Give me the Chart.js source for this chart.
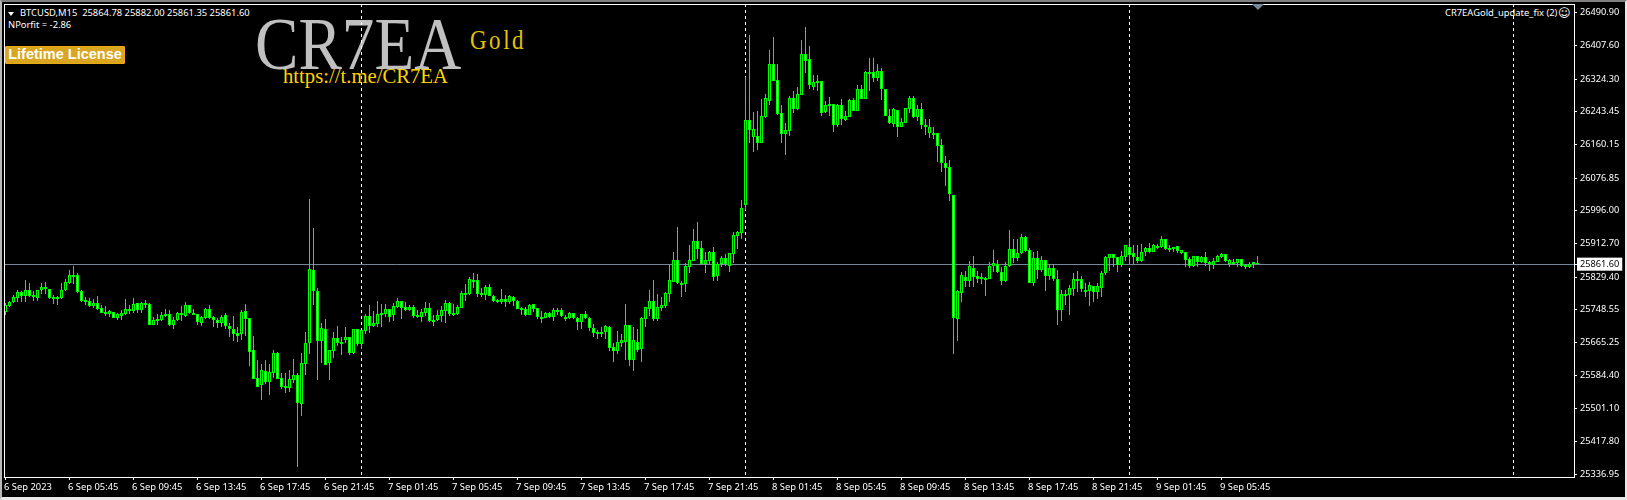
<!DOCTYPE html>
<html>
<head>
<meta charset="utf-8">
<title>BTCUSD,M15</title>
<script src="https://cdn.jsdelivr.net/npm/chart.js@4/dist/chart.umd.js"></script>
<style>
html, body { margin: 0; padding: 0; background: #000; width: 1627px; height: 500px; overflow: hidden; }
canvas { position: absolute; left: 0; top: 0; z-index: 2; }
.txt { position: absolute; z-index: 1; white-space: pre; font-family: "Noto Sans", sans-serif; font-size: 9.4px; line-height: 12px; color: #fff; }
.serif { font-family: "Liberation Serif", serif; transform-origin: left top; }
#frame { position: absolute; left: 0; top: 0; right: 0; bottom: 0; z-index: 3; box-sizing: border-box; pointer-events: none;
  border-top: 2px solid #808080; border-left: 2px solid #b8b8b8; border-right: 2px solid #e8e8e8; border-bottom: 3px solid #e8e8e8; }
#menuArrow { position: absolute; z-index: 1; left: 8px; top: 12px; width: 0; height: 0; border-left: 3.5px solid transparent; border-right: 3.5px solid transparent; border-top: 4px solid #fff; }
#shiftMark { position: absolute; z-index: 3; left: 1252px; top: 4px; width: 0; height: 0; border-left: 6px solid transparent; border-right: 6px solid transparent; border-top: 6px solid #778899; }
#license { position: absolute; z-index: 1; left: 5px; top: 46px; width: 120px; height: 18px; box-sizing: border-box; background: #daa520; border: 1px solid #e8ac10; border-radius: 1px;
  color: #fff; font: bold 14.5px/15px "Liberation Sans", sans-serif; text-align: center; white-space: pre; }
</style>
</head>
<body>
<div id="menuArrow"></div>
<div class="txt" style="left:20px;top:7px">BTCUSD,M15  25864.78 25882.00 25861.35 25861.60</div>
<div class="txt" style="left:8px;top:19px">NPorfit = -2.86</div>
<div id="license">Lifetime License</div>
<div class="txt serif" style="left:255px;top:4px;font-size:74px;line-height:80px;color:#c0c0c0;transform:scaleX(.88)">CR7EA</div>
<div class="txt serif" style="left:470px;top:25px;font-size:27px;line-height:30px;color:#e6c200;letter-spacing:3px;transform:scaleX(.85)">Gold</div>
<div class="txt serif" style="left:283px;top:65px;font-size:20.7px;line-height:22px;color:#ffd400">https://t.me/CR7EA</div>
<div class="txt" style="left:1445px;top:7px">CR7EAGold_update_fix (2)</div>
<div class="txt" style="left:1558px;top:7px;font-family:'DejaVu Sans';font-size:12px">☺</div>
<div id="shiftMark"></div>
<div id="frame"></div>
<canvas id="chart" width="1627" height="500"></canvas>
<script>
// Prix affichés sur l'axe de droite
const priceTicks = [26490.90, 26407.60, 26324.30, 26243.45, 26160.15, 26076.85, 25996.00, 25912.70, 25829.40, 25748.55, 25665.25, 25584.40, 25501.10, 25417.80, 25336.95];
const currentPrice = 25861.60;

// Une étiquette de date toutes les 16 bougies
const timeLabels = ['6 Sep 2023', '6 Sep 05:45', '6 Sep 09:45', '6 Sep 13:45', '6 Sep 17:45', '6 Sep 21:45', '7 Sep 01:45', '7 Sep 05:45', '7 Sep 09:45', '7 Sep 13:45', '7 Sep 17:45', '7 Sep 21:45', '8 Sep 01:45', '8 Sep 05:45', '8 Sep 09:45', '8 Sep 13:45', '8 Sep 17:45', '8 Sep 21:45', '9 Sep 01:45', '9 Sep 05:45'];
const barsPerLabel = 16;

// Bougies de minuit (séparateurs de période)
const dayBreaks = [89, 185, 281, 377];

const opens = [
25742,25757,25767,25777,25792,25782,25797,25779.5,25777,25797,
25804.5,25799.5,25779.5,25774.5,25777,25797,25814.5,25829.5,25834.5,25794.5,
25767,25769.5,25757,25764.5,25752,25737,25737,25742,25727,25732,
25737,25744.5,25744.5,25764.5,25747,25759.5,25762,25709.5,25719.5,25722,
25732,25737,25709.5,25722,25734.5,25732,25759.5,25734.5,25737,25714.5,
25727,25749.5,25729.5,25722,25714.5,25734.5,25707,25699.5,25689.5,25687,
25744.5,25727,25647,25577,25559.5,25594.5,25567,25589.5,25639.5,25577,
25552,25552,25572,25584.5,25512,25612,25664.5,25847,25794.5,25669.5,
25699.5,25614.5,25644.5,25677,25662,25672,25679.5,25639.5,25699.5,25662,
25694.5,25732,25707,25712,25734.5,25737,25749.5,25734.5,25754.5,25769.5,
25754.5,25747,25754.5,25729.5,25729.5,25739.5,25752,25717,25722,25732,
25744.5,25764.5,25734.5,25737,25752,25784.5,25787,25817,25822,25784.5,
25784.5,25804.5,25782,25767,25767,25774.5,25767,25779.5,25769.5,25747,
25749.5,25734.5,25762,25752,25724.5,25727,25739.5,25729.5,25742,25747,
25724.5,25727,25739.5,25727,25717,25737,25727,25702,25687,25687,
25692,25704.5,25654.5,25644.5,25664.5,25667,25709.5,25622,25667,25649.5,
25724.5,25749.5,25769.5,25724.5,25752,25757,25787,25817,25872,25809.5,
25812,25854.5,25869.5,25919.5,25902,25862,25869.5,25892,25832,25862,
25877,25857,25887,25932,25939.5,26009.5,26222,26179.5,26182,26164.5,
26229.5,26269.5,26362,26322,26239.5,26187,26194.5,26277,26249.5,26284.5,
26387,26374.5,26304.5,26314.5,26319.5,26242,26257,26262,26209.5,26259.5,
26222,26229.5,26272,26244.5,26299.5,26274.5,26337,26342,26327,26344.5,
26299.5,26232,26212,26247,26204.5,26214.5,26249.5,26277,26229.5,26249.5,
26204.5,26189.5,26184.5,26189.5,26159.5,26114.5,26104.5,26034.5,25724.5,25789.5,
25829.5,25819.5,25852,25832,25824.5,25822,25824.5,25857,25862,25842,
25819.5,25857,25899.5,25877,25889.5,25929.5,25897,25814.5,25877,25847,
25872,25832,25852,25824.5,25747,25782,25784.5,25799.5,25819.5,25824.5,
25792,25794.5,25807,25792,25802,25839.5,25877,25887,25879.5,25859.5,
25879.5,25904.5,25889.5,25879.5,25869.5,25892,25902,25892,25902,25904.5,
25924.5,25897,25899.5,25907,25889.5,25892,25874.5,25857,25882,25867,
25879.5,25867,25859.5,25867,25879.5,25887,25862,25862,25864.5,25874.5,
25854.5,25854.5,25862,25864.78
];

const highs = [
25764.5,25769.5,25784.5,25797,25794.5,25822,25814.5,25794.5,25797,25814.5,
25817,25799.5,25784.5,25782,25814.5,25824.5,25847,25857,25839.5,25797,
25779.5,25777,25774.5,25782,25759.5,25757,25747,25742,25739.5,25747,
25774.5,25759.5,25777,25764.5,25767,25772,25764.5,25729.5,25737,25742,
25749.5,25747,25729.5,25742,25757,25767,25759.5,25749.5,25737,25732,
25752,25759.5,25732,25727,25734.5,25739.5,25714.5,25732,25704.5,25747,
25762,25727,25682,25622,25612,25622,25612,25647,25642,25589.5,
25589.5,25597,25624.5,25589.5,25639.5,25692,26024.5,25952,25802,25714.5,
25724.5,25647,25692,25707,25679.5,25704.5,25679.5,25699.5,25699.5,25697,
25737,25759.5,25744.5,25769.5,25762,25762,25749.5,25764.5,25777,25769.5,
25767,25759.5,25759.5,25747,25749.5,25767,25764.5,25734.5,25747,25757,
25772,25767,25762,25759.5,25794.5,25812,25829.5,25839.5,25837,25802,
25809.5,25812,25784.5,25774.5,25799.5,25784.5,25784.5,25782,25772,25754.5,
25754.5,25762,25762,25752,25744.5,25742,25742,25752,25752,25752,
25734.5,25742,25739.5,25729.5,25737,25744.5,25729.5,25712,25697,25704.5,
25709.5,25707,25664.5,25694.5,25687,25762,25709.5,25704.5,25699.5,25729.5,
25754.5,25797,25822,25787,25779.5,25792,25859.5,25892,25954.5,25819.5,
25864.5,25909.5,25949.5,25967,25919.5,25892,25894.5,25904.5,25867,25882,
25887,25889.5,25942,25944.5,26022,26329.5,26434.5,26242,26244.5,26274.5,
26287,26397,26429.5,26362,26259.5,26214.5,26282,26294.5,26304.5,26422,
26454.5,26407,26334.5,26334.5,26319.5,26269.5,26279.5,26262,26262,26274.5,
26244.5,26274.5,26277,26309.5,26309.5,26344.5,26377,26377,26362,26352,
26299.5,26249.5,26252,26247,26227,26252,26282,26282,26259.5,26264.5,
26224.5,26224.5,26204.5,26189.5,26174.5,26132,26122,26034.5,25797,25842,
25844.5,25869.5,25882,25844.5,25839.5,25829.5,25867,25897,25872,25854.5,
25867,25947,25924.5,25924.5,25937,25932,25902,25892,25894.5,25882,
25872,25862,25862,25847,25797,25797,25809.5,25839.5,25844.5,25832,
25814.5,25817,25807,25814.5,25844.5,25882,25887,25887,25879.5,25894.5,
25909.5,25927,25909.5,25909.5,25912,25904.5,25914.5,25912,25912,25932,
25924.5,25909.5,25904.5,25907,25897,25892,25879.5,25882,25882,25882,
25892,25869.5,25877,25884.5,25889.5,25887,25874.5,25874.5,25874.5,25874.5,
25862,25867,25867,25882
];

const lows = [
25734.5,25754.5,25764.5,25767,25767,25767,25779.5,25769.5,25769.5,25787,
25787,25774.5,25762,25759.5,25774.5,25794.5,25812,25812,25789.5,25767,
25759.5,25754.5,25752,25747,25739.5,25732,25729.5,25727,25722,25722,
25734.5,25737,25739.5,25739.5,25739.5,25752,25709.5,25709.5,25709.5,25719.5,
25729.5,25707,25699.5,25719.5,25719.5,25729.5,25737,25734.5,25709.5,25707,
25724.5,25724.5,25704.5,25702,25704.5,25699.5,25679.5,25669.5,25667,25672,
25682,25607,25574.5,25554.5,25522,25562,25534.5,25577,25574.5,25549.5,
25539.5,25542,25564.5,25354.5,25482,25584.5,25637,25759.5,25572,25614.5,
25609.5,25572,25627,25657,25634.5,25664.5,25634.5,25637,25657,25649.5,
25687,25689.5,25704.5,25704.5,25704.5,25729.5,25717,25719.5,25752,25724.5,
25744.5,25744.5,25727,25727,25717,25732,25717,25707,25719.5,25717,
25714.5,25732,25732,25734.5,25752,25769.5,25784.5,25802,25779.5,25779.5,
25772,25782,25767,25764.5,25762,25754.5,25762,25757,25749.5,25734.5,
25732,25734.5,25742,25724.5,25714.5,25727,25727,25719.5,25734.5,25729.5,
25719.5,25724.5,25724.5,25697,25699.5,25724.5,25694.5,25679.5,25674.5,25679.5,
25674.5,25644.5,25617,25637,25654.5,25622,25607,25594.5,25642,25617,
25704.5,25732,25719.5,25719.5,25744.5,25752,25767,25817,25812,25779.5,
25792,25839.5,25869.5,25874.5,25859.5,25839.5,25862,25819.5,25819.5,25854.5,
25857,25842,25864.5,25899.5,25924.5,25997,26164.5,26142,26147,26164.5,
26227,26259.5,26319.5,26234.5,26164.5,26134.5,26182,26239.5,26247,26284.5,
26339.5,26299.5,26297,26294.5,26232,26239.5,26232,26192,26204.5,26209.5,
26219.5,26229.5,26244.5,26244.5,26274.5,26274.5,26294.5,26317,26319.5,26272,
26232,26212,26204.5,26179.5,26204.5,26214.5,26239.5,26227,26219.5,26199.5,
26184.5,26177,26174.5,26117,26092,26057,26019.5,25637,25669.5,25767,
25804.5,25804.5,25804.5,25814.5,25812,25782,25824.5,25842,25839.5,25809.5,
25817,25854.5,25864.5,25869.5,25887,25892,25814.5,25807,25824.5,25842,
25794.5,25822,25819.5,25709.5,25719.5,25759.5,25734.5,25782,25792,25792,
25779.5,25757,25767,25774.5,25779.5,25834.5,25844.5,25854.5,25842,25854.5,
25869.5,25862,25862,25864.5,25867,25882,25889.5,25892,25899.5,25902,
25897,25892,25892,25889.5,25887,25854.5,25852,25854.5,25854.5,25864.5,
25857,25844.5,25849.5,25867,25877,25867,25854.5,25859.5,25854.5,25854.5,
25849.5,25852,25852,25861.35
];

const closes = [
25759.5,25767,25779.5,25792,25782,25797,25782,25784.5,25797,25804.5,
25799.5,25777,25774.5,25779.5,25797,25817,25834.5,25834.5,25792,25769.5,
25772,25757,25764.5,25749.5,25739.5,25742,25744.5,25727,25737,25739.5,
25749.5,25749.5,25762,25747,25764.5,25764.5,25709.5,25722,25724.5,25734.5,
25737,25709.5,25722,25739.5,25739.5,25759.5,25739.5,25739.5,25717,25729.5,
25749.5,25727,25722,25714.5,25729.5,25707,25699.5,25687,25682,25742,
25724.5,25642,25574.5,25554.5,25597,25567,25592,25639.5,25574.5,25554.5,
25557,25574.5,25584.5,25514.5,25614.5,25664.5,25849.5,25794.5,25669.5,25702,
25609.5,25647,25677,25664.5,25667,25679.5,25639.5,25699.5,25662,25697,
25732,25707,25714.5,25737,25739.5,25749.5,25729.5,25757,25769.5,25752,
25747,25754.5,25732,25734.5,25742,25752,25719.5,25722,25734.5,25747,
25764.5,25737,25739.5,25754.5,25789.5,25789.5,25824.5,25822,25787,25789.5,
25804.5,25782,25769.5,25772,25774.5,25767,25782,25769.5,25749.5,25752,
25734.5,25759.5,25749.5,25729.5,25729.5,25739.5,25729.5,25747,25747,25732,
25729.5,25739.5,25727,25717,25737,25727,25702,25689.5,25692,25692,
25707,25652,25644.5,25667,25672,25709.5,25622,25672,25647,25727,
25754.5,25769.5,25724.5,25754.5,25759.5,25789.5,25822,25872,25814.5,25814.5,
25857,25872,25919.5,25899.5,25862,25872,25892,25829.5,25862,25877,
25862,25889.5,25934.5,25942,26002,26222,26197,26199.5,26164.5,26232,
26277,26362,26319.5,26237,26187,26197,26277,26249.5,26287,26387,
26369.5,26309.5,26317,26319.5,26239.5,26259.5,26262,26209.5,26259.5,26224.5,
26232,26272,26244.5,26299.5,26274.5,26342,26342,26327,26344.5,26299.5,
26232,26214.5,26249.5,26204.5,26217,26252,26277,26229.5,26249.5,26209.5,
26209.5,26204.5,26189.5,26157,26114.5,26102,26037,25727,25794.5,25834.5,
25819.5,25857,25829.5,25824.5,25829.5,25827,25857,25864.5,25842,25819.5,
25857,25899.5,25877,25889.5,25929.5,25894.5,25814.5,25877,25847,25872,
25832,25852,25824.5,25747,25787,25787,25802,25824.5,25824.5,25799.5,
25797,25809.5,25792,25807,25839.5,25879.5,25887,25877,25859.5,25882,
25909.5,25884.5,25879.5,25869.5,25892,25902,25892,25909.5,25907,25924.5,
25899.5,25902,25904.5,25894.5,25897,25872,25857,25882,25867,25879.5,
25864.5,25862,25869.5,25882,25887,25869.5,25872,25867,25874.5,25857,
25859.5,25862,25867,25861.6
];

const wickData = highs.map((h, i) => ({ x: i, y: [lows[i], h] }));
const bodyData = opens.map((o, i) => ({ x: i, y: [o, closes[i]] }));
const xLabelTicks = timeLabels.map((t, i) => i * barsPerLabel);

const lime = '#00ff00';

// Cadre blanc autour de la zone du graphique
const framePlugin = {
    id: 'frame',
    afterDraw(chart) {
        const { ctx, chartArea: a } = chart;
        ctx.save();
        ctx.strokeStyle = '#fff';
        ctx.lineWidth = 1;
        ctx.strokeRect(a.left + 0.5, a.top + 0.5, a.right - a.left, a.bottom - a.top);
        ctx.restore();
    }
};

new Chart(document.getElementById('chart').getContext('2d'), {
    type: 'bar',
    data: {
        datasets: [
            {
                label: 'Corps',
                data: bodyData,
                order: 1,
                grouped: false,
                barThickness: 3,
                borderWidth: 1,
                borderSkipped: false,
                inflateAmount: 0,
                borderColor: lime,
                backgroundColor: (ctx) => closes[ctx.dataIndex] > opens[ctx.dataIndex] ? '#000' : '#fff'
            },
            {
                label: 'Mèches',
                data: wickData,
                order: 2,
                grouped: false,
                barThickness: 1,
                borderWidth: 0,
                inflateAmount: 0,
                backgroundColor: lime
            }
        ]
    },
    plugins: [framePlugin],
    options: {
        responsive: false,
        animation: false,
        events: [],
        layout: { padding: { left: 4, top: 4, right: 0, bottom: 0 } },
        plugins: { legend: { display: false }, tooltip: { enabled: false } },
        scales: {
            x: {
                type: 'linear',
                bounds: 'data',
                offset: false,
                min: -0.375,
                max: 392.125,
                afterBuildTicks: (scale) => {
                    scale.ticks = xLabelTicks.concat(dayBreaks).sort((a, b) => a - b).map(v => ({ value: v }));
                },
                afterFit: (scale) => {
                    scale.height = 23;
                    scale.paddingLeft = 0;
                    scale.paddingRight = 0;
                },
                border: { display: false, dash: [3, 3] },
                grid: {
                    offset: false,
                    tickLength: 3,
                    tickColor: (ctx) => ctx.tick && dayBreaks.includes(ctx.tick.value) ? 'transparent' : '#fff',
                    color: (ctx) => ctx.tick && dayBreaks.includes(ctx.tick.value) ? '#fff' : 'transparent'
                },
                ticks: {
                    autoSkip: false,
                    maxRotation: 0,
                    minRotation: 0,
                    align: 'start',
                    labelOffset: -1.5,
                    padding: 2,
                    color: '#fff',
                    font: { family: '"Noto Sans", sans-serif', size: 9.4 },
                    callback: (v) => dayBreaks.includes(v) ? '' : timeLabels[v / barsPerLabel]
                }
            },
            y: {
                type: 'linear',
                position: 'right',
                bounds: 'data',
                min: 25329.5,
                max: 26512,
                afterBuildTicks: (scale) => {
                    scale.ticks = priceTicks.concat([currentPrice]).map(v => ({ value: v }));
                },
                afterFit: (scale) => {
                    scale.width = 53;
                    scale.paddingTop = 0;
                    scale.paddingBottom = 0;
                },
                border: { display: false },
                grid: {
                    tickLength: 3,
                    tickColor: '#fff',
                    color: (ctx) => ctx.tick && ctx.tick.value === currentPrice ? '#778899' : 'transparent'
                },
                ticks: {
                    autoSkip: false,
                    padding: 3,
                    font: { family: '"Noto Sans", sans-serif', size: 9.2 },
                    color: (ctx) => ctx.tick && ctx.tick.value === currentPrice ? '#000' : '#fff',
                    showLabelBackdrop: (ctx) => !!ctx.tick && ctx.tick.value === currentPrice,
                    backdropColor: '#fff',
                    backdropPadding: { left: 3, right: 3, top: 1, bottom: 1 },
                    callback: (v) => v.toFixed(2)
                }
            }
        }
    }
});
</script>
</body>
</html>
